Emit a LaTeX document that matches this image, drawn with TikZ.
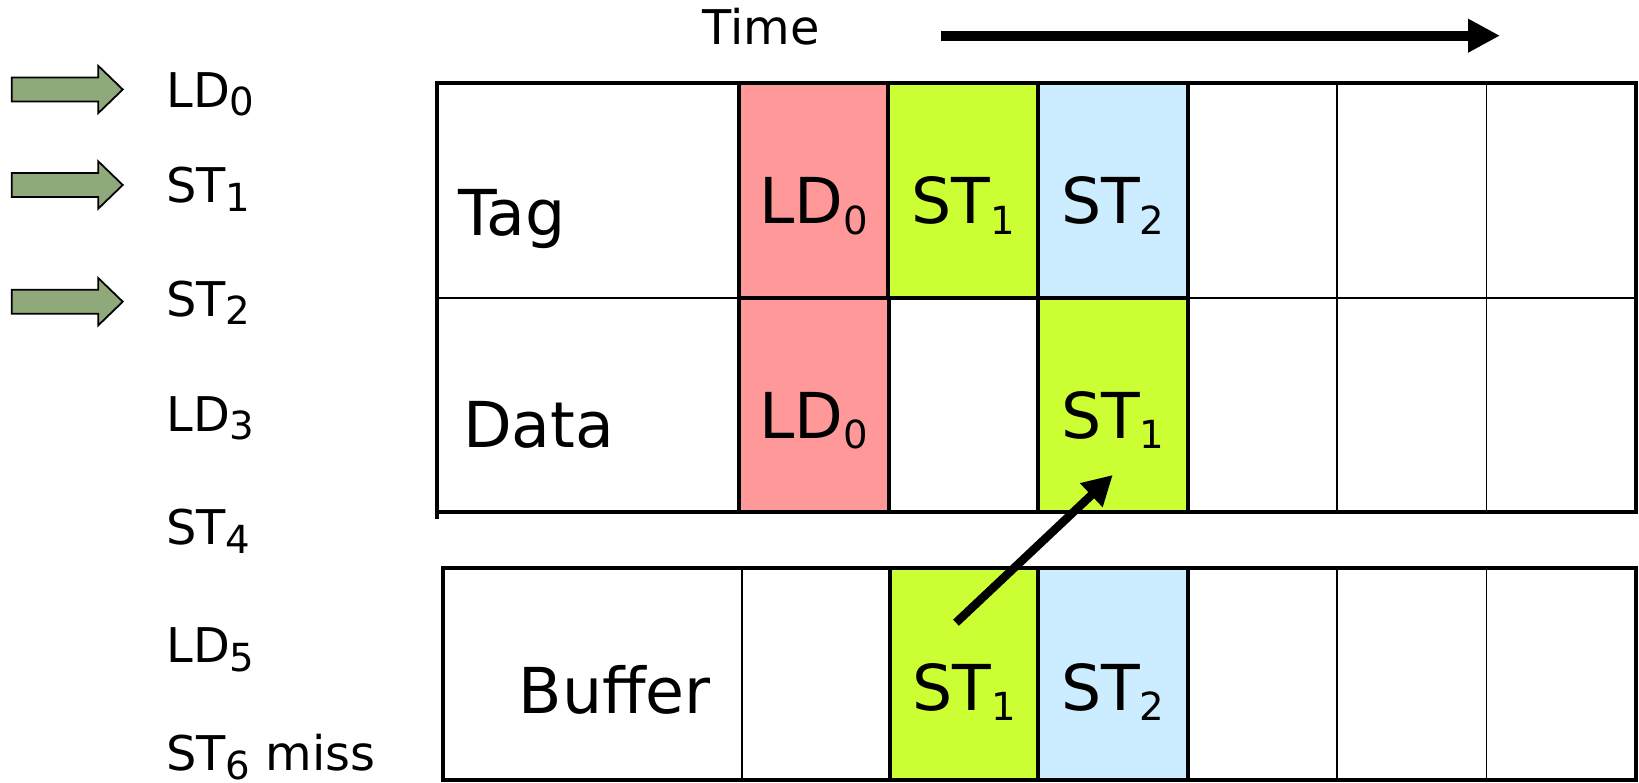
\documentclass[tikz,border=0pt]{standalone}
\usepackage{fontspec}
\setmainfont{DejaVu Sans}
\usetikzlibrary{positioning}
\usetikzlibrary{calc}
\usetikzlibrary{shapes.arrows}
\usetikzlibrary{arrows.meta}
\definecolor{ld-red}{HTML}{FF9999}
\definecolor{st-green}{HTML}{CCFF33}
\definecolor{st-blue}{HTML}{CCECFF}
\definecolor{issue-green}{HTML}{8FA97B}
\newcommand{\idx}[1]{\raisebox{-0.17em}{\fontsize{11}{11}\selectfont #1}}

\begin{document}
\begin{tikzpicture}[x=0.01cm, y=-0.01cm, font=\fontsize{13.6}{16}\selectfont,
  big/.style={font=\fontsize{18}{22}\selectfont},
  word/.style={anchor=base west, inner sep=0pt},
  slot/.style={draw, line width=0.45pt, inner sep=0pt, outer sep=0pt, big,
    minimum width=1.495cm, minimum height=2.145cm, text height=18.9pt, text depth=0pt},
  busy/.style={slot, line width=1.15pt},
  free/.style={slot, node contents={}},
  ld/.style={busy, fill=ld-red, node contents={LD\idx{0}}},
  sta/.style={busy, fill=st-green, node contents={ST\idx{1}}},
  stb/.style={busy, fill=st-blue, node contents={ST\idx{2}}},
  low/.style={minimum height=2.12cm, text height=20.5pt},
  frame/.style={line width=1.15pt},
  issued/.style={single arrow, draw, fill=issue-green, line width=0.5pt,
    inner xsep=0pt, inner ysep=0.1115cm, text height=0pt, text depth=0pt,
    minimum height=1.11cm, single arrow head extend=0.117cm,
    single arrow tip angle=88}]
\useasboundingbox (0,0) rectangle (1639,783);
\node[word]
  (time)
  at (701.7,45)
  {Time};
\coordinate (t-start) at (941,35.7);
\coordinate (t-end) at (1500,35.7);
\draw[line width=2.85pt, -{Triangle[length=9.1pt, width=9pt]}] (t-start) -- (t-end);
\foreach \name/\txt/\y in {
    ld0/LD\idx{0}/107.3,
    st1/ST\idx{1}/203,
    st2/ST\idx{2}/316.7,
    ld3/LD\idx{3}/431.7,
    st4/ST\idx{4}/545,
    ld5/LD\idx{5}/663,
    st6/ST\idx{6} miss/771} {
  \node[word]
    (op-\name)
    at (165.7,\y)
    {\txt};
}
\foreach \name/\y in {ld0/89.5, st1/185, st2/301.7} {
  \node[issued] (in-\name) at (61,\y) {};
}
\node (tag-0) at (588,190.75) [free, minimum width=3.02cm];
\node (data-0) at (588,405) [free, minimum width=3.02cm];
\node (buf-0) at (592.75,674) [free, low, minimum width=2.985cm];
\foreach \c/\x/\bx/\t/\d/\b in {
    1/813.75/816.5/ld/ld/free,
    2/963.25/964.5/sta/free/sta,
    3/1112.75/1112.75/stb/sta/stb,
    4/1262.25/1262.25/free/free/free,
    5/1411.75/1411.75/free/free/free,
    6/1561.25/1561.25/free/free/free} {
  \node (tag-\c) at (\x,190.75) [\t];
  \node (data-\c) at (\x,405) [\d];
  \node (buf-\c) at (\bx,674) [\b, low];
}
\draw[frame] (tag-0.north west) rectangle (data-6.south east);
\draw[frame] (data-0.south west) -- ++(0,7);
\draw[frame] (buf-0.north west) rectangle (buf-6.south east);
\node[big, word] (tag-name) at (458,236) {Tag};
\node[big, word] (data-name) at (462.5,448) {Data};
\node[big, word] (buf-name) at (518,714) {Buffer};
\coordinate (wb-from) at ($(buf-2.center)+(-8.5,-51.3)$);
\coordinate (wb-to) at ($(data-3.center)+(0,70)$);
\draw[line width=2.4pt, -{Triangle[length=8.4pt, width=8.8pt]}] (wb-from) -- (wb-to);
\end{tikzpicture}
\end{document}
